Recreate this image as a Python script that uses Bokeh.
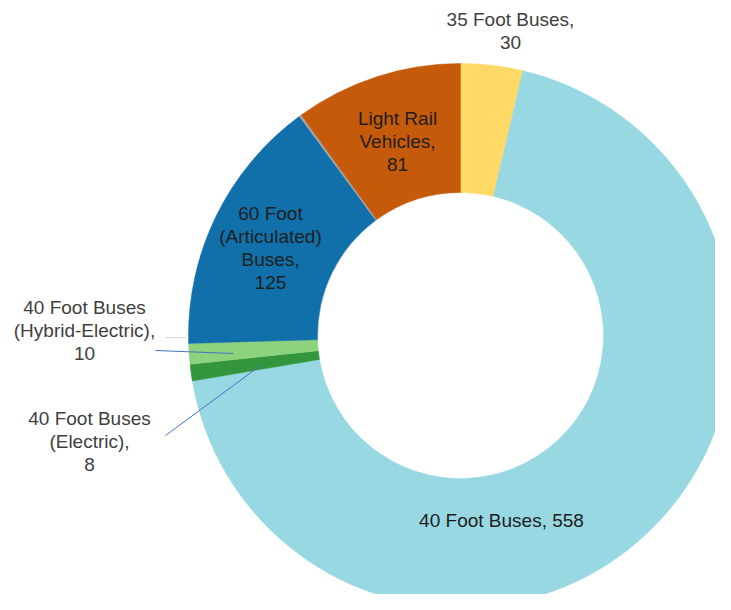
import math
from bokeh.plotting import figure
from bokeh.models import Range1d, ColumnDataSource
from bokeh.core.properties import value
from bokeh.embed import file_html
from bokeh.resources import INLINE

# Data (clockwise from 12 o'clock)
categories = ["35 Foot Buses", "40 Foot Buses", "40 Foot Buses (Electric)",
              "40 Foot Buses (Hybrid-Electric)", "60 Foot (Articulated) Buses",
              "Other", "Light Rail Vehicles"]
counts = [30, 558, 8, 10, 125, 1, 81]
colors = ["#FFD966", "#98D8E3", "#33963C", "#8DD27D", "#1170AA", "#A5A5A5", "#C55A0B"]
label_text = ["35 Foot Buses,\n30", "40 Foot Buses, 558", "40 Foot Buses\n(Electric),\n8",
              "40 Foot Buses\n(Hybrid-Electric),\n10", "60 Foot\n(Articulated)\nBuses,\n125",
              "", "Light Rail\nVehicles,\n81"]

# Layout (image pixel coordinates)
W, H = 715, 594
CX, CY = 460, 335
R_OUT, R_IN = 272, 143
label_pos = [(510, 19), (501, 520), (89, 418), (84, 307), (270, 213), (0, 0), (397, 118)]
inside = [False, True, False, False, True, False, True]
LINE_H = 23

def Y(img_y):
    return 610 - img_y

p = figure(width=W, height=H, output_backend="svg", toolbar_location=None,
           x_range=Range1d(0, W), y_range=Range1d(610 - H, 610), min_border=0)
p.axis.visible = False
p.grid.visible = False
p.outline_line_color = None
p.background_fill_color = "white"
p.border_fill_color = "white"

total = sum(counts)
starts, ends = [], []
cum = 0.0
for c in counts:
    s = cum / total * 2 * math.pi
    cum += c
    e = cum / total * 2 * math.pi
    starts.append(math.pi / 2 - e)
    ends.append(math.pi / 2 - s)

src = ColumnDataSource(dict(x=[CX] * len(counts), y=[Y(CY)] * len(counts),
                            start=starts, end=ends, color=colors, cat=categories))
p.annular_wedge(x="x", y="y", inner_radius=R_IN, outer_radius=R_OUT,
                start_angle="start", end_angle="end", direction="anticlock",
                fill_color="color", line_color="color", line_width=0.5, source=src)

# leader lines
p.line(x=[165, 185], y=[Y(337), Y(337)], line_color="#D9D9D9", line_width=1)
p.line(x=[155, 233], y=[Y(350), Y(353)], line_color="#4472C4", line_width=1)
p.line(x=[165, 260], y=[Y(435), Y(365)], line_color="#4472C4", line_width=1)

tx, ty, tt, tc = [], [], [], []
for lab, (lx, ly), ins in zip(label_text, label_pos, inside):
    if not lab:
        continue
    for i, line in enumerate(lab.split("\n")):
        tx.append(lx)
        ty.append(Y(ly + i * LINE_H))
        tt.append(line)
        tc.append("#1E1E1E" if ins else "#404040")

p.text(x=tx, y=ty, text=tt, text_color=tc, text_align="center", text_baseline="middle",
       text_font=value("Liberation Sans"), text_font_size="19px")

open("out.html", "w").write(file_html(p, INLINE))
